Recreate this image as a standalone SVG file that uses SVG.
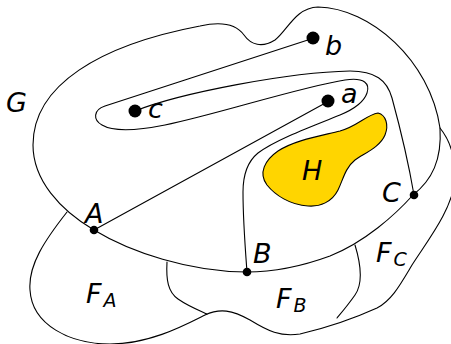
<svg xmlns="http://www.w3.org/2000/svg" width="451" height="344" viewBox="0 0 451 344">
<style>
.ln{fill:none;stroke:#000;stroke-width:1.1;stroke-linejoin:round;stroke-linecap:round}
.lb{font-family:"DejaVu Sans",sans-serif;font-style:italic;font-size:27px;fill:#000}
.sub{font-size:19px}
.dot{fill:#000}
</style>
<rect width="451" height="344" fill="#fff"/>
<g id="regions">
<path id="G" class="ln" d="M94,230 C60,210 33,180 33,145 C33,85 100,45 200,26 C222,21 236,24 244,35 C251,45 262,48 275,40 C288,30 295,8 318,7 C370,8 430,60 440,128 C442,160 432,180 413,195 C395,215 365,242 330,256 C300,267 270,272 247,272 C190,272 130,252 94,230 Z"/>
<path id="F-outer" class="ln" d="M67,212 C45,240 28,265 30,290 C32,325 70,344 110,344 C150,344 185,325 205,315 C220,308 232,310 250,320 C268,331 280,337 300,334 C330,327 355,318 377,308 C392,300 400,285 412,265 C428,240 452,210 455,180 C456,155 448,138 440,128"/>
<path id="FA-FB" class="ln" d="M167,262 C166,280 168,292 178,299 C188,306 198,310 207,314"/>
<path id="FB-FC" class="ln" d="M355,245 C362,268 362,285 355,295 C348,305 342,312 337,318"/>
<path id="H" d="M378,113 C386,115 389,125 385,135 C380,147 365,153 355,160 C345,168 343,180 338,190 C332,202 320,207 308,206 C290,205 275,195 267,185 C258,173 265,160 278,151 C295,140 320,136 340,131 C358,126 366,115 378,113 Z" fill="#ffd500" stroke="#000" stroke-width="1.1"/>
</g>
<g id="connectors">
<path id="b-B" class="ln" d="M314,38 L105,106 C93,110 93,120 102,125 C112,131 135,131 165,125 C215,115 300,87 345,80 C365,77 370,84 367,93 C364,102 352,110 340,115 C310,127 275,140 258,153 C247,162 243,175 243,192 C243,220 245,245 247,272"/>
<path id="c-C" class="ln" d="M135,111 C180,93 290,72 350,71 C375,71 387,80 392,98 C398,120 408,160 414,195"/>
<path id="a-A" class="ln" d="M329,101 L94,230"/>
</g>
<g id="node-a"><circle class="dot" cx="328" cy="101" r="6.5"/><text class="lb" x="341" y="103">a</text></g>
<g id="node-b"><circle class="dot" cx="313" cy="38" r="6.5"/><text class="lb" x="325" y="55">b</text></g>
<g id="node-c"><circle class="dot" cx="135" cy="111" r="6.5"/><text class="lb" x="148" y="118">c</text></g>
<g id="node-A"><circle class="dot" cx="94" cy="230" r="4.3"/><text class="lb" x="85" y="223">A</text></g>
<g id="node-B"><circle class="dot" cx="247" cy="272" r="4.3"/><text class="lb" x="253" y="263">B</text></g>
<g id="node-C"><circle class="dot" cx="414" cy="195" r="4.3"/><text class="lb" x="382" y="202">C</text></g>
<g id="label-G"><text class="lb" x="6" y="112">G</text></g>
<g id="label-H"><text class="lb" x="302" y="180">H</text></g>
<g id="label-FA"><text class="lb" x="86" y="303">F<tspan class="sub" dx="2" dy="4">A</tspan></text></g>
<g id="label-FB"><text class="lb" x="276" y="308">F<tspan class="sub" dx="2" dy="4">B</tspan></text></g>
<g id="label-FC"><text class="lb" x="376" y="262">F<tspan class="sub" dx="2" dy="4">C</tspan></text></g>
</svg>
